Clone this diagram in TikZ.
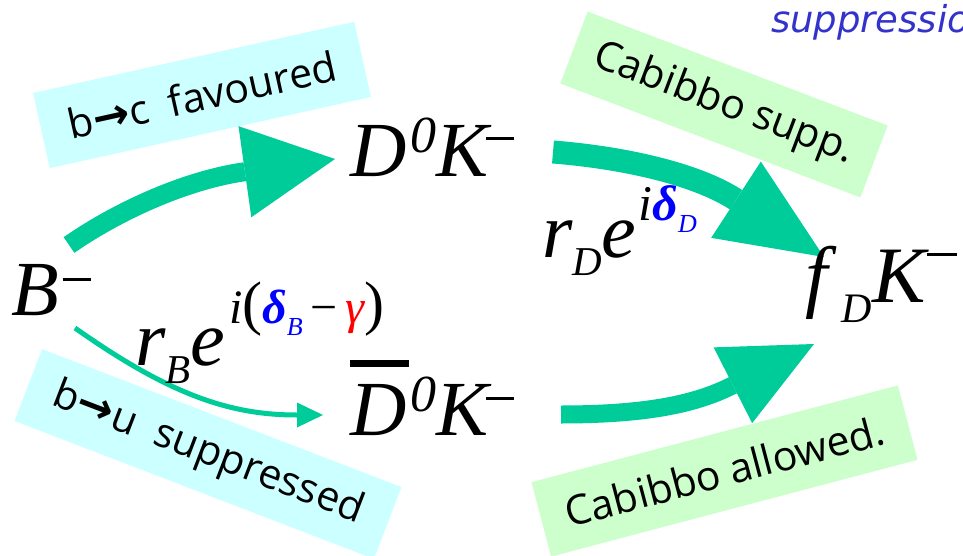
\documentclass[tikz,border=0pt]{standalone}
\usepackage{fontspec}
\setmainfont{Liberation Serif}
\newfontfamily\osans{Open Sans}
\newfontfamily\djv{DejaVu Sans}
\usetikzlibrary{arrows.meta}
\definecolor{arrowgreen}{HTML}{00CC99}
\definecolor{boxcyan}{HTML}{CCFFFF}
\definecolor{boxgreen}{HTML}{CCFFCC}
\definecolor{noteblue}{HTML}{3333CC}
\definecolor{dblue}{HTML}{0000FF}
\definecolor{gred}{HTML}{FF0000}
\newcommand{\fsz}[1]{\fontsize{#1}{#1}\selectfont}
\newcommand{\It}[2]{{\fsz{#1}\itshape #2}}
\newcommand{\mminus}[2]{\raisebox{#1}{\rule{#2}{2.6pt}}}
\newcommand{\rarr}{{\djv\bfseries\fsz{44}→}}
\begin{document}
\begin{tikzpicture}[x=1pt,y=-1pt,
  lbl/.style={inner sep=0pt,outer sep=0pt,anchor=base west},
  tbox/.style={inner sep=0pt,outer sep=0pt,minimum height=77pt,font=\osans\fsz{41}},
  cyanbox/.style={tbox,fill=boxcyan},
  greenbox/.style={tbox,fill=boxgreen},
  fat/.style={draw=arrowgreen,line cap=butt}]
\useasboundingbox (0,0) rectangle (963,556);
\clip (0,0) rectangle (963,556);

% boxes
\node[cyanbox,minimum width=329pt,rotate=12.5] (bc) at (202,95) {b\rarr c\ \ favoured};
\node[greenbox,minimum width=321pt,rotate=-20.8] (cs) at (724,104.5) {Cabibbo supp.};
\node[greenbox,minimum width=379pt,rotate=14.8] (ca) at (724.5,471) {Cabibbo allowed.};
\node[cyanbox,minimum width=385pt,rotate=-21] (bu) at (208,454) {b\rarr u\ \ suppressed};

% note
\node[lbl,text=noteblue,font=\djv\itshape\fsz{37}] (note) at (771,33) {suppression};

% arrow end points
\coordinate (a1s) at (69,245);
\coordinate (a1e) at (335,159);
\coordinate (a2s) at (553,152);
\coordinate (a2e) at (824,257);
\coordinate (a3s) at (561,414.5);
\coordinate (a3e) at (814,344);
\coordinate (a4s) at (75,328);
\coordinate (a4e) at (323,415);

\draw[fat,line width=19pt,-{Triangle[length=91pt,width=92pt,line width=0pt]}]
  (a1s) .. controls (118,211) and (186,180) .. (a1e);
\draw[fat,line width=23pt,-{Triangle[length=105pt,width=91pt,line width=0pt]}]
  (a2s) .. controls (628,158) and (698,175) .. (a2e);
\draw[fat,line width=18pt,-{Triangle[length=91pt,width=85pt,line width=0pt]}]
  (a3s) .. controls (650,414.5) and (698,403) .. (a3e);
\draw[fat,line width=5pt,-{Triangle[length=26pt,width=25pt,line width=0pt]}]
  (a4s) .. controls (170,395) and (230,415) .. (a4e);

% labels
\node[lbl] (B) at (12,315) {\It{78}{B}\kern3pt\mminus{34pt}{28pt}};
\node[lbl] (D0K) at (350,177) {\It{78}{D}\kern4pt\raisebox{24pt}{\It{52}{0}}\It{78}{K}\kern-2pt\mminus{37pt}{28pt}};
\node[lbl] (Db0K) at (350,435) {\makebox[0pt][l]{\raisebox{68pt}{\rule{59pt}{7pt}}}\It{78}{D}\kern4pt\raisebox{24pt}{\It{52}{0}}\It{78}{K}\kern-2pt\mminus{35pt}{28pt}};
\node[lbl] (fDK) at (805,302) {\It{80}{f}\kern14pt\raisebox{-20pt}{\It{42}{D}}\kern1pt\It{80}{K}\kern1pt\mminus{46pt}{30pt}};
\node[lbl] (rD) at (542,257) {\It{78}{r}\raisebox{-18pt}{\It{41}{D}}\It{78}{e}\raisebox{37pt}{\kern2pt\It{50}{i}\textcolor{dblue}{{\fsz{50}\bfseries\itshape δ}\raisebox{-12pt}{\It{26}{D}}}}};
\node[lbl] (rB) at (135,365) {\It{78}{r}\raisebox{-18pt}{\It{41}{B}}\It{78}{e}\raisebox{42pt}{\kern4pt\It{48}{i}{\fsz{60}(}\textcolor{dblue}{{\fsz{48}\bfseries\itshape δ}\raisebox{-12pt}{\It{26}{B}}}{\fsz{48}\,−\,}\textcolor{gred}{\It{48}{γ}}{\fsz{60})}}};
\end{tikzpicture}
\end{document}
